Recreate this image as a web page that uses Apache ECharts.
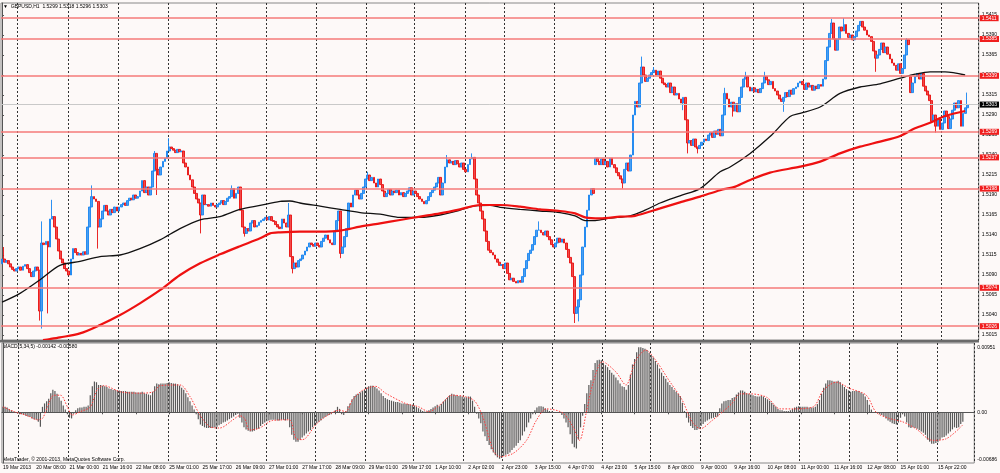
<!DOCTYPE html>
<html>
<head>
<meta charset="utf-8">
<title>GBPUSD,H1</title>
<script src="https://cdn.jsdelivr.net/npm/echarts@6/dist/echarts.min.js"></script>
<style>
html, body { margin: 0; padding: 0; background: #fdf9f8; }
#chart { width: 1000px; height: 473px; }
</style>
</head>
<body>
<div id="chart"></div>
<script>
// prices are kept in pips above 1.5000 (303 = 1.5303), MACD in units of 0.0001

// hourly closes, one per bar
var closes = [
  110,106,108,104,100,97,95,98,100,96,
  101,103,98,93,88,95,100,96,45,130,
  128,132,125,160,163,150,135,120,110,105,
  98,95,90,110,123,118,115,117,115,119,
  116,150,175,188,185,182,150,160,170,177,
  170,165,172,168,175,170,175,178,180,177,
  183,186,184,190,186,188,195,208,193,200,
  190,200,220,242,222,215,225,232,236,245,
  250,248,246,243,247,244,245,230,225,215,
  209,200,192,185,180,165,190,178,178,176,
  180,177,175,178,180,183,178,182,186,188,
  198,186,192,200,171,150,142,148,145,155,
  158,150,152,156,158,160,162,159,163,158,
  157,153,150,148,160,155,150,165,113,98,
  105,100,108,110,115,120,125,130,128,126,
  130,127,125,132,136,140,134,130,128,145,
  158,170,117,125,138,148,180,175,190,196,
  190,185,192,200,210,215,208,212,205,200,
  210,203,195,188,192,197,190,195,193,196,
  190,193,188,192,195,199,190,195,192,188,
  185,182,179,183,188,193,196,200,205,212,
  190,205,225,234,230,232,228,233,229,225,
  230,222,219,228,235,237,210,190,180,170,
  160,145,132,121,118,115,110,106,102,103,
  98,105,92,84,86,82,80,83,81,88,
  98,108,117,121,128,138,146,146,143,140,
  145,138,134,128,125,130,136,131,135,130,
  122,112,105,88,42,50,59,90,125,150,
  171,190,198,192,236,232,228,235,228,232,
  225,236,228,224,218,214,210,205,222,230,
  220,240,290,307,300,330,350,340,332,336,
  340,343,346,340,345,336,330,328,325,330,
  318,325,315,317,310,305,312,284,255,258,
  252,260,250,248,252,256,260,258,265,268,
  262,270,266,272,264,290,317,310,300,306,
  295,304,294,312,325,335,338,325,320,324,
  319,322,318,323,330,338,334,328,332,323,
  320,315,310,307,312,318,313,321,316,323,
  325,330,332,328,322,330,325,327,321,326,
  323,328,326,335,358,375,392,405,385,371,
  385,400,395,403,392,387,390,384,388,395,
  402,407,400,396,390,388,382,370,361,365,
  372,380,368,375,366,360,355,352,346,354,
  342,348,365,384,378,318,330,338,342,335,
  342,326,320,315,308,282,290,276,285,272,
  280,295,288,273,285,296,305,299,308,276,
  292,299,303
];
var firstOpen = 104;
// bars that open away from the previous close (price gaps): [bar, open]
var gapOpens = [[284, 228], [435, 338]];
// visible wicks: [bar, high, low]
var wicks = [
  [1,125,null],[18,null,33],[19,157,23],[22,null,42],[24,184,null],[43,202,null],
  [46,null,123],[73,245,null],[74,null,190],[80,261,null],[95,null,142],[110,202,null],
  [116,null,138],[137,180,null],[139,null,92],[162,null,111],[175,219,null],[213,240,null],
  [225,242,null],[257,157,null],[274,null,30],[276,null,32],[297,null,198],[306,363,null],
  [312,350,null],[326,null,296],[328,null,242],[333,null,242],[346,324,null],[350,null,288],
  [356,344,null],[365,344,null],[374,null,294],[397,410,null],[403,411,null],[418,null,344],
  [433,386,null],[447,null,268],[462,318,296]
];

// moving averages: [bar, value]
var blackMA = [
  [0,56],[8.6,67],[18.2,84],[27.7,102],[37.3,107],[46.9,113],[56.5,115],[66,123],
  [75.6,134],[85.2,148],[94.8,159],[104.3,163],[113.9,172],[123.5,177],[133.1,182],
  [137.8,182.5],[142.6,180],[152.2,176],[161.8,172],[171.4,168],[181,166],[190.5,162],
  [200.1,162],[209.6,165],[219.2,171],[226.4,176.5],[233.6,177],[238.4,174.5],[248,172],
  [257.5,170],[267.1,168],[274.3,164],[279.1,158],[283.9,158],[291,161],[300.6,164],
  [307.8,171],[315,180],[324.5,189],[334.1,198],[343.7,219],[348.5,225],[358.1,242],
  [367.6,263],[377.2,288],[382,292],[391.6,300],[401.1,317],[410.7,325],[420.3,329],
  [429.9,336],[437,341],[444.2,344],[451.4,344],[461,340]
];
var redMA = [
  [19.6,8.75],[23,10],[27.7,12],[37.3,17],[46.9,27.5],[56.5,40],[66,54.6],[75.6,71],
  [85.2,90],[94.8,104.6],[104.3,115.8],[113.9,126],[123.5,135.8],[128.3,142],[133.1,143.3],
  [142.6,144.2],[152.2,144.2],[161.8,145.4],[171.4,150.4],[181,154.6],[190.5,158.8],
  [200.1,163],[209.6,167],[219.2,172],[228.8,177.5],[238.4,177.5],[248,175.4],[257.5,172],
  [267.1,170],[274.3,167],[279.1,162],[286.2,160.8],[295.8,162.9],[303,164],[315,173.3],
  [324.5,180.8],[334.1,188],[343.7,196],[351,200.5],[358.1,208.8],[367.6,218],[382,225.4],
  [391.6,231.7],[401.1,242],[410.7,250.4],[420.3,256.7],[429.9,263.8],[437,273.3],
  [444.2,280.4],[451.4,288.8],[461,295]
];

// MACD(5,34,5) main histogram, one per bar
var macdHist = [
  8,8,7,5,3,1,-1,-2,-3,-3,
  -4,-5,-6,-7,-9,-10,-11,-14,-21,8,
  13,16,20,28,33,31,27,22,17,10,
  4,-3,-8,-9,-2,3,6,7,7,8,
  8,10,25,38,45,44,40,40,39,38,
  37,35,34,33,33,32,32,31,31,31,
  30,30,30,30,29,29,29,30,28,27,
  26,25,30,38,42,41,42,42,42,43,
  44,43,42,42,41,39,36,33,28,22,
  16,10,4,-3,-10,-18,-20,-22,-23,-23,
  -23,-23,-22,-21,-19,-17,-15,-14,-12,-10,
  -8,-6,-4,-2,-8,-15,-22,-25,-27,-28,
  -28,-27,-25,-24,-20,-17,-15,-13,-12,-11,
  -11,-11,-12,-12,-11,-11,-12,-10,-22,-33,
  -40,-43,-43,-40,-37,-34,-31,-28,-26,-22,
  -19,-16,-14,-12,-9,-7,-5,-4,-3,-1,
  3,8,5,-3,-4,2,9,13,19,24,
  26,27,29,31,33,36,38,39,39,37,
  35,32,28,24,21,19,18,17,16,15,
  15,14,13,13,12,12,11,11,10,8,
  6,4,2,1,1,3,5,7,9,11,
  9,12,16,19,22,25,27,26,25,24,
  24,23,22,22,23,23,17,8,-2,-9,
  -16,-28,-35,-42,-48,-54,-59,-63,-66,-68,
  -67,-64,-62,-61,-59,-55,-52,-49,-45,-41,
  -34,-28,-22,-15,-9,-3,3,7,9,9,
  8,6,4,2,1,0,0,-1,-1,-4,
  -9,-15,-22,-32,-46,-51,-53,-40,-22,-5,
  12,28,40,47,62,72,76,77,76,72,
  69,66,62,58,55,51,47,42,38,37,
  33,40,55,70,78,88,95,95,94,93,
  91,87,84,80,75,70,64,58,53,49,
  44,40,37,33,30,27,24,14,2,-8,
  -15,-20,-23,-26,-26,-24,-20,-17,-14,-12,
  -10,-9,-8,-7,-6,6,13,16,17,18,
  18,21,22,26,29,32,32,30,28,27,
  26,25,24,23,23,24,23,21,19,17,
  14,11,8,5,3,3,2,2,2,3,
  5,7,8,9,8,8,8,8,7,7,
  7,8,12,18,27,36,42,47,47,46,
  45,45,46,44,40,37,34,32,30,31,
  31,31,31,29,27,23,18,11,4,0,
  -1,-1,-3,-4,-6,-9,-12,-14,-16,-17,
  -18,-15,-8,-3,-6,-15,-22,-23,-22,-23,
  -24,-26,-28,-30,-33,-40,-43,-46,-46,-45,
  -44,-40,-37,-36,-34,-31,-28,-25,-22,-23,
  -22,-17,-14
];
// MACD signal line: [bar, value]
var macdSignal = [
  [0,8],[5.4,1],[11.8,-5],[16.6,-11],[19,-9],[21.4,8],[24.5,25],[27.7,25],[31,8],[33.3,-4],
  [37.3,1],[42.1,8],[45.3,33],[48.5,39],[56.5,30],[66,28],[72.4,30],[75.6,39],[85.2,40],
  [90,23],[94.8,-4],[99.5,-21],[104.3,-23],[110.7,-11],[113.9,-5],[116.3,-9],[118.7,-26],
  [123.5,-23],[129.8,-12],[137.8,-11],[141,-38],[144.2,-40],[150.6,-18],[155.4,-6],
  [161.8,3],[165,1],[168.2,18],[173,32],[179.3,38],[184.1,28],[193.7,13],[200.1,8],
  [204.9,1],[211.2,13],[216,25],[222.4,23],[227.2,16],[231.2,-9],[236,-56],[239.2,-65],
  [245.6,-60],[252,-41],[256.7,-12],[261.5,5],[269.5,-1],[274.3,-21],[277.5,-41],
  [280.7,-1],[283.9,42],[288.6,74],[295,59],[299.8,40],[304.6,76],[309.4,91],[314.2,76],
  [320.5,47],[326.9,18],[331.7,-14],[335.7,-24],[341.3,-12],[346.1,0],[350.9,13],
  [354.9,27],[359.6,27],[367.6,22],[374,5],[380.4,5],[390,8],[394.8,32],[401.1,44],
  [407.5,35],[415.5,25],[420.3,0],[426.7,-9],[433.1,-14],[439.4,-24],[447.4,-41],
  [453.8,-39],[461.8,-19]
];

var levels = [411, 385, 339, 269, 237, 198, 74, 26];
var lastPrice = 303;
var priceTicks = [415, 390, 365, 340, 315, 290, 265, 240, 215, 190, 165, 140, 115, 90, 65, 40, 15];
var macdTicks = [95.1, 0, -68.6];
var macdTickText = ['0.00951', '0.00', '-0.00686'];
var timeLabels = [
  '19 Mar 2013', '20 Mar 08:00', '21 Mar 00:00', '21 Mar 16:00', '22 Mar 08:00',
  '25 Mar 01:00', '25 Mar 17:00', '26 Mar 09:00', '27 Mar 01:00', '27 Mar 17:00',
  '28 Mar 09:00', '29 Mar 01:00', '29 Mar 17:00', '1 Apr 10:00', '2 Apr 02:00',
  '2 Apr 23:00', '3 Apr 15:00', '4 Apr 07:00', '4 Apr 23:00', '5 Apr 15:00',
  '8 Apr 08:00', '9 Apr 00:00', '9 Apr 16:00', '10 Apr 08:00', '11 Apr 00:00',
  '11 Apr 16:00', '12 Apr 08:00', '15 Apr 01:00', '15 Apr 22:00'
];
var timeLabelBars = [0,16,32,48,64,80,96,112,128,144,160,176,192,208,224,240,256,272,288,304,
  320,336,352,368,384,400,416,432,450];
var separatorBars = [8,32,56,80,103,127,151,175,198,222,241,265,289,312,336,360,384,408,431,450];
var barSlots = 468;

var FONT = 'Liberation Sans';

function fmtPrice(v) { return (1.5 + v / 10000).toFixed(4); }

// build OHLC: open is the previous close unless a gap is marked
var gapMap = {};
gapOpens.forEach(function (g) { gapMap[g[0]] = g[1]; });
var wickMap = {};
wicks.forEach(function (w) { wickMap[w[0]] = w; });
var candles = [];
for (var i = 0; i < closes.length; i++) {
  var o = i === 0 ? firstOpen : closes[i - 1];
  if (gapMap[i] !== undefined) o = gapMap[i];
  var c = closes[i];
  var hi = Math.max(o, c), lo = Math.min(o, c);
  var w = wickMap[i];
  if (w) {
    if (w[1] !== null) hi = Math.max(hi, w[1]);
    if (w[2] !== null) lo = Math.min(lo, w[2]);
  }
  candles.push([o, c, lo, hi]);
}

var slots = [];
for (var k = 0; k < barSlots; k++) slots.push(String(k));
var labelAt = {};
timeLabelBars.forEach(function (b, j) { labelAt[b] = timeLabels[j]; });
var sepAt = {};
separatorBars.forEach(function (b) { sepAt[b] = true; });

var sepLine = {
  show: true,
  interval: function (idx) { return !!sepAt[idx]; },
  lineStyle: { color: '#333', width: 1, type: [2, 2] }
};

var levelLines = levels.map(function (v) {
  return {
    yAxis: v,
    lineStyle: { color: '#f47a7a', width: 1.5, type: 'solid' },
    label: { backgroundColor: '#f01e1e', color: '#fff' }
  };
});
levelLines.push({
  yAxis: lastPrice,
  lineStyle: { color: '#c9c9c9', width: 1, type: 'solid' },
  label: { backgroundColor: '#000', color: '#fff' }
});

var chart = echarts.init(document.getElementById('chart'));

var option = {
  backgroundColor: '#fdf9f8',
  animation: false,
  grid: [
    { left: 1, right: 21, top: 3, bottom: 133, show: true, borderColor: '#888', borderWidth: 1 },
    { left: 1, right: 21, top: 343, bottom: 10, show: true, borderColor: '#888', borderWidth: 1 }
  ],
  xAxis: [
    {
      type: 'category', gridIndex: 0, data: slots, boundaryGap: true,
      axisLine: { show: false }, axisTick: { show: false }, axisLabel: { show: false },
      splitLine: sepLine
    },
    {
      type: 'category', gridIndex: 1, data: slots, boundaryGap: true,
      axisLine: { show: true, lineStyle: { color: '#555' } },
      axisTick: {
        show: true, alignWithLabel: true, length: 2,
        interval: function (idx) { return labelAt[idx] !== undefined; },
        lineStyle: { color: '#555' }
      },
      axisLabel: {
        show: true, align: 'left', margin: 2,
        interval: function (idx) { return labelAt[idx] !== undefined; },
        formatter: function (v) { return labelAt[+v] || ''; },
        fontFamily: FONT, fontSize: 5, color: '#000'
      },
      splitLine: sepLine
    },
    { type: 'value', gridIndex: 0, min: -0.5, max: barSlots - 0.5, show: false },
    { type: 'value', gridIndex: 1, min: -0.5, max: barSlots - 0.5, show: false }
  ],
  yAxis: [
    {
      type: 'value', gridIndex: 0, position: 'right', min: 8.75, max: 430, scale: true,
      axisLine: { show: true, lineStyle: { color: '#555' } },
      axisTick: { show: true, length: 2, customValues: priceTicks, lineStyle: { color: '#555' } },
      axisLabel: {
        customValues: priceTicks, formatter: fmtPrice, margin: 3,
        fontFamily: FONT, fontSize: 5, color: '#000'
      },
      splitLine: { show: false }
    },
    {
      type: 'value', gridIndex: 1, position: 'right', min: -74.2, max: 101.4,
      axisLine: { show: true, lineStyle: { color: '#555' } },
      axisTick: { show: true, length: 2, customValues: macdTicks, lineStyle: { color: '#555' } },
      axisLabel: {
        customValues: macdTicks, margin: 3,
        formatter: function (v) {
          var best = 0;
          for (var j = 1; j < macdTicks.length; j++) {
            if (Math.abs(macdTicks[j] - v) < Math.abs(macdTicks[best] - v)) best = j;
          }
          return macdTickText[best];
        },
        fontFamily: FONT, fontSize: 5, color: '#000'
      },
      splitLine: { show: false }
    }
  ],
  series: [
    {
      name: 'GBPUSD', type: 'candlestick', xAxisIndex: 0, yAxisIndex: 0,
      data: candles, barWidth: 2.3,
      itemStyle: {
        color: '#4a9ff2', color0: '#f24a4a',
        borderColor: '#1784f0', borderColor0: '#e81010', borderWidth: 0.9
      },
      markLine: {
        silent: true, symbol: ['none', 'none'], animation: false,
        label: {
          show: true, position: 'end', distance: 1, formatter: function (p) { return fmtPrice(p.value); },
          fontFamily: FONT, fontSize: 5, padding: [1, 2, 0, 2]
        },
        data: levelLines
      },
      z: 3
    },
    {
      name: 'MA black', type: 'line', xAxisIndex: 2, yAxisIndex: 0,
      data: blackMA, showSymbol: false, smooth: 0.3,
      lineStyle: { color: '#111', width: 1.3 }, z: 4
    },
    {
      name: 'MA red', type: 'line', xAxisIndex: 2, yAxisIndex: 0,
      data: redMA, showSymbol: false, smooth: 0.3,
      lineStyle: { color: '#ee1111', width: 2.2 }, z: 4
    },
    {
      name: 'MACD', type: 'bar', xAxisIndex: 1, yAxisIndex: 1,
      data: macdHist, barWidth: 1.2,
      itemStyle: { color: '#585858' }
    },
    {
      name: 'Signal', type: 'line', xAxisIndex: 3, yAxisIndex: 1,
      data: macdSignal, showSymbol: false, smooth: 0.3,
      lineStyle: { color: '#ff3b3b', width: 1, type: [1.5, 1.5] }, z: 4
    }
  ],
  graphic: [
    { type: 'rect', shape: { x: 0, y: 340, width: 979, height: 2.5 }, style: { fill: '#6a6a6a' }, z: 10 },
    {
      type: 'text', left: 3, top: 4,
      style: { text: '\u25BC  GBPUSD,H1  1.5299 1.5318 1.5296 1.5303', fontFamily: FONT, fontSize: 5, fill: '#000' }
    },
    {
      type: 'text', left: 3, top: 344,
      style: { text: 'MACD(5,34,5) -0.00142 -0.00580', fontFamily: FONT, fontSize: 5, fill: '#000' }
    },
    {
      type: 'text', left: 3, top: 457,
      style: { text: 'MetaTrader, \u00A9 2001-2013, MetaQuotes Software Corp.', fontFamily: FONT, fontSize: 5, fill: '#000' }
    }
  ]
};

chart.setOption(option);
</script>
</body>
</html>
